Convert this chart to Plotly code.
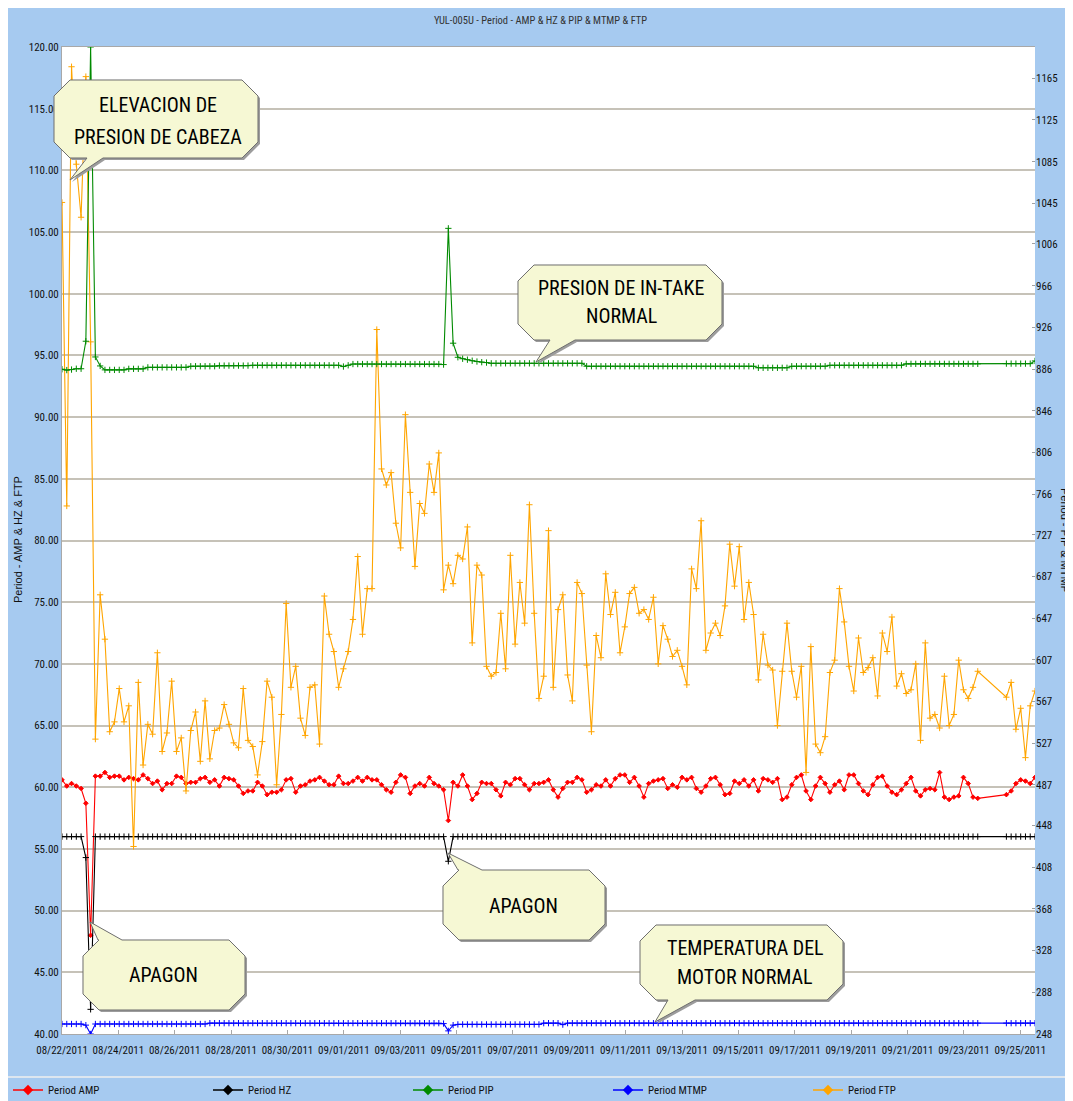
import pandas as pd
import plotly.graph_objects as go

# ---------------- data ----------------
TITLE = "YUL-005U - Period - AMP & HZ & PIP & MTMP & FTP"
SERIES_NAMES = ["Period AMP", "Period HZ", "Period PIP", "Period MTMP", "Period FTP"]
FIRST_READING = "2011-08-22 00:00"
LAST_READING = "2011-09-25 12:30"
N_READINGS = 205
GAP = [None] * 5  # readings missing around 09/24

AMP = ([60.6, 60.1, 60.3, 60.1, 59.9, 58.7, 48.0]
       + [60.9, 60.9, 61.2, 60.8, 60.9, 60.9, 60.6, 60.8, 60.7, 60.6, 61.0, 60.7, 60.3, 60.5, 59.8,
          60.3, 60.3, 60.9, 60.8, 60.3, 60.4, 60.4, 60.7, 60.8, 60.4, 60.6, 60.1, 60.8, 60.7, 60.6,
          60.1, 59.5, 59.7, 59.7, 60.4, 60.1, 59.4, 59.6, 59.6, 59.8, 60.6, 60.7, 59.6, 60.1, 60.2]
       + [60.5, 60.6, 60.8, 60.5, 60.2, 60.2, 60.9, 60.3, 60.3, 60.5, 60.8, 60.5, 60.8, 60.6, 60.6,
          60.2, 59.8, 59.6, 60.4, 61.0, 60.8, 59.5, 60.1, 60.3, 60.1, 60.8, 60.3, 60.1, 59.8, 57.3,
          60.4, 60.1, 61.0, 60.1, 59.0, 59.5, 60.4, 60.3, 60.3, 59.8, 59.3, 60.4, 60.2, 60.7, 60.7,
          60.2, 59.8, 60.3, 60.3, 60.4, 60.6]
       + [59.8, 59.2, 59.9, 60.4, 60.4, 60.8, 60.6, 59.6, 59.8, 60.2, 60.1, 60.6, 60.1, 60.7, 61.0,
          61.0, 60.4, 60.8, 60.1, 59.2, 60.3, 60.5, 60.6, 60.7, 59.9, 60.2, 60.0, 60.8, 60.6, 60.8,
          59.9, 59.6, 60.1, 60.7, 60.8, 60.2, 59.4, 59.5, 60.5, 60.3, 60.6, 60.1, 60.6, 59.7, 60.7,
          60.6, 60.4, 60.7, 59.0, 59.2]
       + [60.2, 60.8, 61.0, 59.7, 59.0, 60.1, 60.8, 60.3, 59.6, 60.2, 60.5, 59.8, 61.0, 61.0, 60.3,
          59.7, 59.4, 60.2, 60.8, 60.9, 60.1, 59.6, 59.4, 59.8, 60.3, 60.8, 59.7, 59.3, 59.8, 59.9,
          59.8, 61.2, 59.2, 59.0, 59.2, 59.3, 60.8, 60.3, 59.2, 59.1]
       + GAP
       + [59.4, 59.7, 60.3, 60.6, 60.5, 60.3, 60.8])

HZ = ([56.0] * 5 + [54.3, 42.0] + [56.0] * 74 + [54.0] + [56.0] * 111 + GAP + [56.0] * 7)

PIP = ([885.8, 885.0, 885.5, 886.3, 886.3, 912.7, 1195.0, 897.6, 889.0]
       + [885.2] * 5 + [886.2] * 4 + [887.6] * 9 + [888.7] * 6 + [889.3] * 7 + [889.6] * 19
       + [888.4, 889.6] + [890.8] * 19
       + [890.3, 1021.0, 910.8, 897.3, 895.9, 895.0, 894.0, 893.2, 892.6, 892.2]
       + [891.5] * 20 + [888.7] * 36 + [887.2] * 7 + [888.7] * 8 + [889.6] * 16 + [891.0] * 16
       + GAP
       + [891.2] * 6 + [893.8])

MTMP = ([257.6] * 5 + [256.5, 248.0] + [257.6] * 24 + [258.4] * 49
        + [258.0, 251.0, 256.5] + [257.2] * 18 + [258.4] * 4 + [257.0] + [258.4] * 87
        + GAP + [258.4] * 7)

FTP = ([107.4, 82.8, 118.4, 110.5, 106.2, 117.6, 96.1, 63.9, 75.6, 72.0, 64.5, 65.3, 68.0, 65.3, 66.6,
        55.2, 68.5, 61.8, 65.1, 64.3, 70.9, 62.9, 64.4, 68.6, 62.9, 64.0, 59.7, 64.6, 66.1, 62.1,
        67.0, 62.3, 64.6, 64.8, 66.7, 65.1, 63.6, 63.2, 68.0, 63.8, 63.3, 61.0, 63.7, 68.6, 67.3,
        60.2, 65.9, 74.9, 68.1, 69.8, 65.6, 64.2]
       + [68.1, 68.3, 63.5, 75.5, 72.4, 71.0, 68.1, 69.6, 71.0, 73.6, 78.7, 72.4, 76.1, 76.1, 97.1,
          85.8, 84.5, 85.5, 81.4, 79.4, 90.2, 83.9, 77.9, 83.0, 82.2, 86.2, 83.9, 87.1, 76.0, 78.0,
          76.5, 78.8, 78.5, 81.1, 71.7, 78.0, 77.2, 69.8, 69.0, 69.3, 74.1, 69.6, 78.8, 71.6, 76.6,
          73.3, 82.9, 74.1, 67.2, 69.0, 80.8]
       + [68.1, 74.4, 75.6, 69.1, 67.0, 76.6, 75.7, 69.9, 64.5, 72.3, 70.5, 77.3, 74.0, 75.8, 70.9,
          73.0, 75.7, 76.2, 74.1, 74.4, 73.6, 75.4, 70.0, 73.1, 72.0, 70.6, 71.1, 69.8, 68.3, 77.7,
          76.1, 81.6, 71.1, 72.5, 73.3, 72.3, 74.7, 79.7, 76.3, 79.5, 73.6, 76.6, 74.0, 68.7, 72.4,
          69.9, 69.5, 65.0, 69.4, 73.3]
       + [69.4, 67.3, 69.8, 61.2, 71.4, 63.5, 62.8, 64.1, 69.3, 70.3, 76.1, 73.4, 69.8, 67.8, 72.1,
          69.3, 69.7, 70.5, 67.4, 72.5, 71.0, 73.8, 68.2, 69.2, 67.6, 67.9, 70.0, 63.8, 71.7, 65.6,
          65.9, 64.8, 69.0, 65.0, 65.9, 70.3, 67.9, 67.2, 68.1, 69.4]
       + GAP
       + [67.3, 68.5, 64.7, 66.4, 62.4, 66.6, 67.8])

LEFT_TICKS = [40, 45, 50, 55, 60, 65, 70, 75, 80, 85, 90, 95, 100, 105, 110, 115, 120]
RIGHT_TICKS = [248, 288, 328, 368, 408, 448, 487, 527, 567, 607, 647, 687, 727, 766, 806, 846,
               886, 926, 966, 1006, 1045, 1085, 1125, 1165]
LEFT_RANGE = [40, 120]
RIGHT_RANGE = [248, 1195]

CALLOUTS = [
    ["ELEVACION DE", "PRESION DE CABEZA"],
    ["PRESION DE IN-TAKE", "NORMAL"],
    ["APAGON"],
    ["APAGON"],
    ["TEMPERATURA DEL", "MOTOR NORMAL"],
]

# ---------------- layout constants ----------------
# the page adds an 8px body margin; reference pixel coords are converted accordingly
OFF = 8
REF_W, REF_H = 1073, 1101
W, H = REF_W - OFF, REF_H - OFF
ML, MR, MT, MB = 62 - OFF, 38, 47 - OFF, 67
PW, PH = W - ML - MR, H - MT - MB
BLUE_BG = "#A6CAF0"
GRID = "#C6C2B8"
NARROW = "Roboto Condensed, Noto Sans Condensed, Liberation Sans Narrow, Liberation Sans, sans-serif"
COLORS = ["#FF0000", "#000000", "#008A00", "#0000FF", "#FFA500"]


def PX(x):  # reference pixel x -> paper
    return (x - 62) / PW


def PY(y):  # reference pixel y -> paper
    return (1034 - y) / PH


times = pd.date_range(FIRST_READING, LAST_READING, periods=N_READINGS)

fig = go.Figure()

series = [(AMP, "y"), (HZ, "y"), (PIP, "y2"), (MTMP, "y2"), (FTP, "y")]
for (vals, ax), name, col in zip(series, SERIES_NAMES, COLORS):
    sym = "diamond" if name == "Period AMP" else "cross-thin"
    size = 3.5 if name == "Period AMP" else 4.5
    fig.add_trace(go.Scatter(
        x=times, y=vals, yaxis=ax, name=name, mode="lines+markers", connectgaps=True,
        line=dict(color=col, width=1.1),
        marker=dict(symbol=sym, size=size, color=col, line=dict(color=col, width=1)),
        showlegend=False, hoverinfo="skip"))

# legend entries
for name, col in zip(SERIES_NAMES, COLORS):
    fig.add_trace(go.Scatter(
        x=[None], y=[None], name=name, mode="lines+markers",
        line=dict(color=col, width=1.5),
        marker=dict(symbol="diamond", size=8, color=col)))

shapes = []
# legend separator
shapes.append(dict(type="line", xref="paper", yref="paper", x0=PX(0), x1=PX(REF_W), y0=PY(1077), y1=PY(1077),
                   line=dict(color="#DDE6EF", width=2)))


def callout_points(l, t, r, b, c, edge, bx1, bx2, tip):
    pts = [(l + c, t)]
    if edge == "top":
        pts += [(bx1, t), tip, (bx2, t)]
    pts += [(r - c, t), (r, t + c), (r, b - c), (r - c, b)]
    if edge == "bottom":
        pts += [(bx2, b), tip, (bx1, b)]
    pts += [(l + c, b), (l, b - c), (l, t + c)]
    return pts


def to_path(pts, dx=0, dy=0):
    return "M " + " L ".join(f"{PX(x + dx):.5f},{PY(y + dy):.5f}" for x, y in pts) + " Z"


callout_geom = [
    dict(box=(54, 80, 258, 158), edge="bottom", base=(87, 103), tip=(70, 180),
         text_xy=[(158, 105), (158, 137)]),
    dict(box=(518, 265, 722, 340), edge="bottom", base=(550, 575), tip=(536, 362),
         text_xy=[(621, 288), (621, 316)]),
    dict(box=(83, 940, 245, 1010), edge="top", base=(98, 122), tip=(90, 922),
         text_xy=[(163, 975)]),
    dict(box=(443, 870, 605, 940), edge="top", base=(458, 482), tip=(448, 853),
         text_xy=[(523, 906)]),
    dict(box=(640, 925, 843, 1000), edge="bottom", base=(668, 695), tip=(655, 1022),
         text_xy=[(745, 948), (745, 977)]),
]

annotations = []
for lines, g in zip(CALLOUTS, callout_geom):
    l, t, r, b = g["box"]
    pts = callout_points(l, t, r, b, 16, g["edge"], g["base"][0], g["base"][1], g["tip"])
    shapes.append(dict(type="path", xref="paper", yref="paper", path=to_path(pts, 2, 2),
                       fillcolor="#9C9C9C", line=dict(width=0), layer="above"))
    shapes.append(dict(type="path", xref="paper", yref="paper", path=to_path(pts),
                       fillcolor="#F6F8D4", line=dict(color="#6E6E6E", width=1), layer="above"))
    for txt, (tx, ty) in zip(lines, g["text_xy"]):
        annotations.append(dict(xref="paper", yref="paper", x=PX(tx), y=PY(ty), text=txt,
                                showarrow=False, xanchor="center", yanchor="middle",
                                font=dict(family=NARROW, size=20, color="#000000")))

# axis titles
annotations.append(dict(xref="paper", yref="paper", x=PX(18), y=PY(540), text="Period - AMP & HZ & FTP",
                        textangle=-90, showarrow=False, xanchor="center", yanchor="middle",
                        font=dict(family="Liberation Sans, Arial, sans-serif", size=11, color="#111")))
annotations.append(dict(xref="paper", yref="paper", x=PX(1065), y=PY(540), text="Period - PIP & MTMP",
                        textangle=90, showarrow=False, xanchor="center", yanchor="middle",
                        font=dict(family="Liberation Sans, Arial, sans-serif", size=11, color="#111")))

fig.update_layout(
    width=W, height=H,
    margin=dict(l=ML, r=MR, t=MT, b=MB, autoexpand=False),
    paper_bgcolor=BLUE_BG, plot_bgcolor="white",
    title=dict(text=TITLE, x=0.5, xanchor="center", y=1 - (20 - OFF) / H, yanchor="middle",
               font=dict(family=NARROW, size=10.5, color="#333333")),
    xaxis=dict(type="date", range=[times[0], times[-1]], tick0="2011-08-22", dtick=2 * 86400000,
               tickformat="%m/%d/%Y", tickangle=0, ticks="inside", ticklen=4, tickcolor="#A8A8A8",
               showgrid=False, zeroline=False, showline=True, linecolor="#A8A8A8", linewidth=1,
               mirror=True, ticklabelstandoff=6,
               tickfont=dict(family=NARROW, size=11, color="#111")),
    yaxis=dict(range=LEFT_RANGE, tickvals=LEFT_TICKS, tickformat=".2f", showgrid=True,
               gridcolor=GRID, gridwidth=2, zeroline=False, showline=True, linecolor="#A8A8A8",
               ticks="", tickfont=dict(family=NARROW, size=11, color="#111")),
    yaxis2=dict(range=RIGHT_RANGE, tickvals=RIGHT_TICKS, overlaying="y", side="right",
                showgrid=False, zeroline=False, showline=False, ticks="inside", ticklen=3,
                tickcolor="#A0A0A0", tickfont=dict(family=NARROW, size=11, color="#111")),
    legend=dict(orientation="h", x=PX(OFF), xanchor="left", y=PY(1090), yanchor="middle",
                entrywidth=155, entrywidthmode="pixels", bgcolor="rgba(0,0,0,0)",
                font=dict(family=NARROW, size=11, color="#111"), itemwidth=30),
    shapes=shapes,
    annotations=annotations,
    showlegend=True,
)

fig.write_html("out.html")
